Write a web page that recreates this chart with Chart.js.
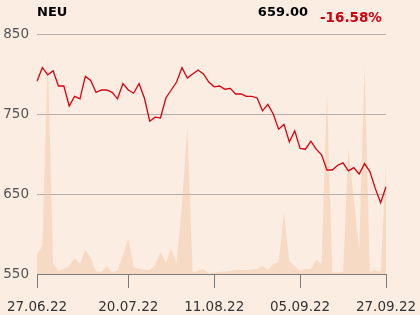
<!DOCTYPE html>
<html lang="de">
<head>
  <meta charset="UTF-8">
  <title>NEU</title>
  <style>
    html, body { margin: 0; padding: 0; background: #fbede2; }
    .wrap { position: relative; width: 420px; height: 315px; }
  </style>
</head>
<body>
  <div class="wrap"><canvas id="chart" width="420" height="315"></canvas></div>

  <script src="https://cdn.jsdelivr.net/npm/chart.js"></script>
  <script>

const dates = [
  '27.06.22', '28.06.22', '29.06.22', '30.06.22', '01.07.22', '04.07.22', '05.07.22', '06.07.22',
  '07.07.22', '08.07.22', '11.07.22', '12.07.22', '13.07.22', '14.07.22', '15.07.22', '18.07.22',
  '19.07.22', '20.07.22', '21.07.22', '22.07.22', '25.07.22', '26.07.22', '27.07.22', '28.07.22',
  '29.07.22', '01.08.22', '02.08.22', '03.08.22', '04.08.22', '05.08.22', '08.08.22', '09.08.22',
  '10.08.22', '11.08.22', '12.08.22', '16.08.22', '17.08.22', '18.08.22', '19.08.22', '22.08.22',
  '23.08.22', '24.08.22', '25.08.22', '26.08.22', '29.08.22', '30.08.22', '31.08.22', '01.09.22',
  '02.09.22', '05.09.22', '06.09.22', '07.09.22', '08.09.22', '09.09.22', '12.09.22', '13.09.22',
  '14.09.22', '15.09.22', '16.09.22', '19.09.22', '20.09.22', '21.09.22', '22.09.22', '23.09.22',
  '26.09.22', '27.09.22'
];

const close = [
  791, 808, 799, 804, 785, 785, 760, 772, 769, 797, 792, 777, 780, 780, 777, 769,
  788, 780, 776, 788, 770, 741, 746, 745, 770, 780, 790, 808, 795, 800, 805, 800,
  790, 784, 785, 781, 782, 775, 775, 772, 772, 770, 754, 762, 750, 731, 737, 715,
  729, 707, 706, 716, 706, 699, 680, 680, 686, 689, 679, 683, 675, 688, 678, 657,
  639, 659
];

// volume, thousand shares
const volume = [
  20, 28, 218, 11, 3, 5, 8, 16, 10, 24, 16, 2.5, 2, 8, 1.5, 3.5,
  19, 35, 7, 5.5, 4, 4, 9, 22, 11, 25, 11, 70, 147, 1.5, 3.5, 5,
  0.5, 1.5, 2, 2.5, 3, 4, 4, 4, 4.5, 5, 8, 4, 10, 12, 61, 13,
  8, 3, 5, 5, 14, 10, 182, 1.5, 1.5, 2, 125, 75, 24, 208, 2, 4,
  2, 110
];

const xTicks = ['27.06.22', '20.07.22', '11.08.22', '05.09.22', '27.09.22'];
const yTicks = [550, 650, 750, 850];

const title = 'NEU';
const lastPrice = '659.00';
const change = '-16.58%';

Chart.defaults.font.family = '"DejaVu Sans", sans-serif';

// title, last price and change above the plot
const headline = {
  id: 'headline',
  afterDraw(chart) {
    const c = chart.ctx;
    c.save();
    c.font = 'bold 13px "DejaVu Sans"';
    c.textBaseline = 'alphabetic';
    c.fillStyle = '#000';
    c.textAlign = 'left';
    c.fillText(title, 37, 15.5);
    c.textAlign = 'right';
    c.fillText(lastPrice, 308, 15.5);
    c.fillStyle = '#d0000f';
    c.textAlign = 'left';
    c.font = 'bold 13.5px "DejaVu Sans"';
    c.fillText(change, 320, 21.5);
    c.restore();
  }
};

new Chart(document.getElementById('chart'), {
  type: 'line',
  data: {
    labels: dates,
    datasets: [{
      label: 'Kurs',
      data: close,
      yAxisID: 'y',
      borderColor: '#d7000f',
      borderWidth: 1.3,
      pointRadius: 0,
      tension: 0,
      fill: false,
      order: 0
    }, {
      label: 'Volumen',
      data: volume,
      yAxisID: 'vol',
      borderWidth: 0,
      borderColor: 'rgba(0,0,0,0)',
      backgroundColor: 'rgba(242, 190, 150, 0.4)',
      fill: 'origin',
      pointRadius: 0,
      tension: 0,
      order: 1
    }]
  },
  options: {
    responsive: false,
    animation: false,
    layout: { padding: { top: 34, right: 34, left: 0, bottom: 0 } },
    plugins: {
      legend: { display: false },
      tooltip: { enabled: false }
    },
    scales: {
      x: {
        grid: { drawOnChartArea: false, drawTicks: true, tickLength: 14, color: '#7a7a7a' },
        border: { display: true, color: '#7a7a7a' },
        ticks: { autoSkip: false, maxRotation: 0, padding: 11, color: '#333', font: { size: 13.5 } },
        afterBuildTicks: s => { s.ticks = xTicks.map(d => ({ value: dates.indexOf(d) })); },
        afterFit: s => {
          s.height = 41;
          s.paddingLeft = 0;
          s.paddingRight = 0;
        }
      },
      y: {
        min: 550,
        max: 850,
        afterBuildTicks: s => { s.ticks = yTicks.map(v => ({ value: v })); },
        grid: { color: '#b2aeaa', drawTicks: false },
        border: { display: false },
        ticks: { padding: 8, color: '#555', font: { size: 13.5 } },
        afterFit: s => {
          s.width = 37;
          s.paddingTop = 0;
          s.paddingBottom = 0;
        }
      },
      vol: { display: false, min: 0, max: 240 }
    }
  },
  plugins: [headline]
});

  </script>
</body>
</html>
